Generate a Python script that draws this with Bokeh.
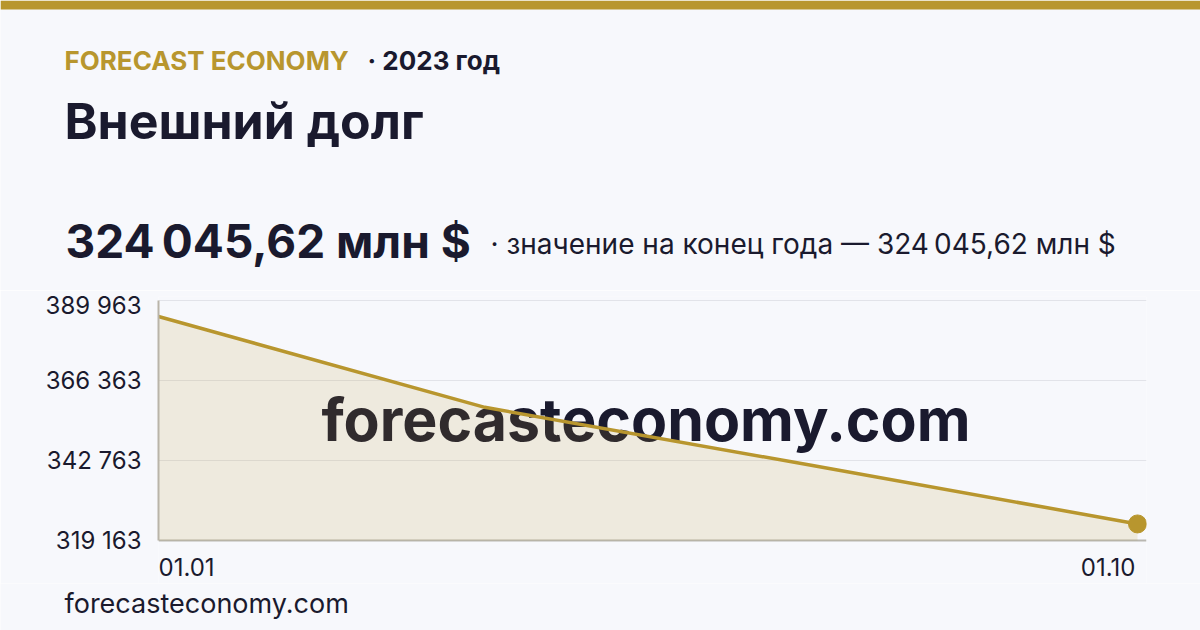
from bokeh.plotting import figure
from bokeh.models import Range1d, FixedTicker, Label, BoxAnnotation, Grid
from bokeh.layouts import column
from bokeh.embed import file_html
from bokeh.resources import INLINE

# ---- data ----
x_labels = ["01.01", "01.04", "01.07", "01.10"]
x_pos = [0, 1, 2, 3]
debt_values = [385243.0, 358450.0, 341350.0, 324045.62]
y_ticks = [319163, 342763, 366363, 389963]
brand = "FORECAST ECONOMY"
year_text = "· 2023 год"
title_text = "Внешний долг"
value_text = "324\u202f045,62 млн $"
sub_text = "· значение на конец года — 324\u202f045,62 млн $"
site_text = "forecasteconomy.com"

GOLD = "#b8962e"
DARK = "#1a1a2e"
BG = "#f7f8fc"
FONT = "Inter"
W, PAGE_H = 1200, 630
K = 0.38  # baseline correction (fraction of font size)


def blank_fig(h):
    f = figure(width=W, height=h, output_backend="svg", toolbar_location=None,
               x_axis_type=None, y_axis_type=None, x_range=Range1d(0, 1), y_range=Range1d(0, 1),
               min_border_left=0, min_border_right=0, min_border_top=0, min_border_bottom=0)
    f.background_fill_color = BG
    f.border_fill_color = BG
    f.outline_line_color = None
    f.xgrid.visible = False
    f.ygrid.visible = False
    f.frame_align = False
    return f


def lab(fig, text, x, y, size, color=DARK, bold=False):
    fig.add_layout(Label(x=x, y=y + K * size, x_units="screen", y_units="screen", text=text,
                         text_font=FONT, text_font_style="bold" if bold else "normal",
                         text_font_size=f"{size}px", text_color=color,
                         text_align="left", text_baseline="alphabetic"))


# ---------- header ----------
HH = 290
head = blank_fig(HH)
head.add_layout(BoxAnnotation(left=0, right=W, top=HH, bottom=HH - 9,
                              left_units="screen", right_units="screen",
                              top_units="screen", bottom_units="screen",
                              fill_color=GOLD, fill_alpha=1, line_color=None))
lab(head, brand, 64, HH - 70, 26, GOLD, True)
lab(head, year_text, 367, HH - 70, 26, DARK, True)
lab(head, title_text, 64, HH - 139, 50, DARK, True)
lab(head, value_text, 65, HH - 258, 46, DARK, True)
lab(head, sub_text, 490, HH - 254, 28, DARK, False)

# ---------- chart ----------
CH = 293
FB = HH + CH  # page y of the chart frame bottom
PX = 295.0  # value units per pixel
PXX = 979 / 3.0  # pixels per x unit
chart = figure(width=W, height=CH, output_backend="svg", toolbar_location=None,
               x_axis_type=None,
               x_range=Range1d(0, 3 + 9 / PXX),
               y_range=Range1d(max(y_ticks) - (FB - 300) * PX, max(y_ticks) + 4 * PX),
               min_border_left=158, min_border_right=54, min_border_top=6, min_border_bottom=0)
chart.frame_align = False
chart.background_fill_color = BG
chart.border_fill_color = BG
chart.outline_line_color = None

chart.yaxis.ticker = FixedTicker(ticks=y_ticks)
chart.yaxis.bounds = (min(y_ticks), max(y_ticks))
chart.yaxis.major_label_overrides = {t: f"{t:,}".replace(",", " ") for t in y_ticks}
chart.yaxis.major_label_text_font = FONT
chart.yaxis.major_label_text_font_size = "24px"
chart.yaxis.major_label_text_color = DARK
chart.yaxis.major_label_standoff = 17
chart.yaxis.major_tick_line_color = None
chart.yaxis.major_tick_out = 0
chart.yaxis.major_tick_in = 0
chart.yaxis.minor_tick_line_color = None
chart.yaxis.axis_line_color = "#b9b4a9"
chart.yaxis.axis_line_width = 2

chart.ygrid.ticker = FixedTicker(ticks=y_ticks[1:])
chart.ygrid.grid_line_color = "#e2e3e9"
chart.ygrid.grid_line_width = 1
base = Grid(dimension=1, ticker=FixedTicker(ticks=[min(y_ticks)]),
            grid_line_color="#b9b7b1", grid_line_width=2)
chart.add_layout(base)

# watermark (below the area fill)
chart.add_layout(Label(x=487.5, y=FB - 441 + K * 59, x_units="screen", y_units="screen",
                       text=site_text, text_font=FONT, text_font_style="bold",
                       text_font_size="59px", text_color=DARK, text_align="center",
                       text_baseline="alphabetic", level="underlay"))

chart.varea(x=x_pos, y1=[min(y_ticks)] * len(x_pos), y2=debt_values, fill_color=GOLD, fill_alpha=0.14)
chart.line(x=x_pos, y=debt_values, line_color=GOLD, line_width=3.5, line_join="round")
chart.scatter(x=[x_pos[-1]], y=[debt_values[-1]], size=18, color=GOLD)

# x tick labels (first and last), through the data scale
for i, al, dx in ((0, "left", 0), (-1, "right", -2)):
    chart.add_layout(Label(x=x_pos[i], y=FB - 576 + K * 24, x_offset=dx,
                           x_units="data", y_units="screen",
                           text=x_labels[i], text_font=FONT, text_font_size="24px",
                           text_color=DARK, text_align=al, text_baseline="alphabetic"))

# ---------- footer ----------
FH = PAGE_H - FB
foot = blank_fig(FH)
lab(foot, site_text, 64, PAGE_H - 613, 27, DARK, False)

layout = column(head, chart, foot, spacing=0)
open("out.html", "w").write(file_html(layout, INLINE))
